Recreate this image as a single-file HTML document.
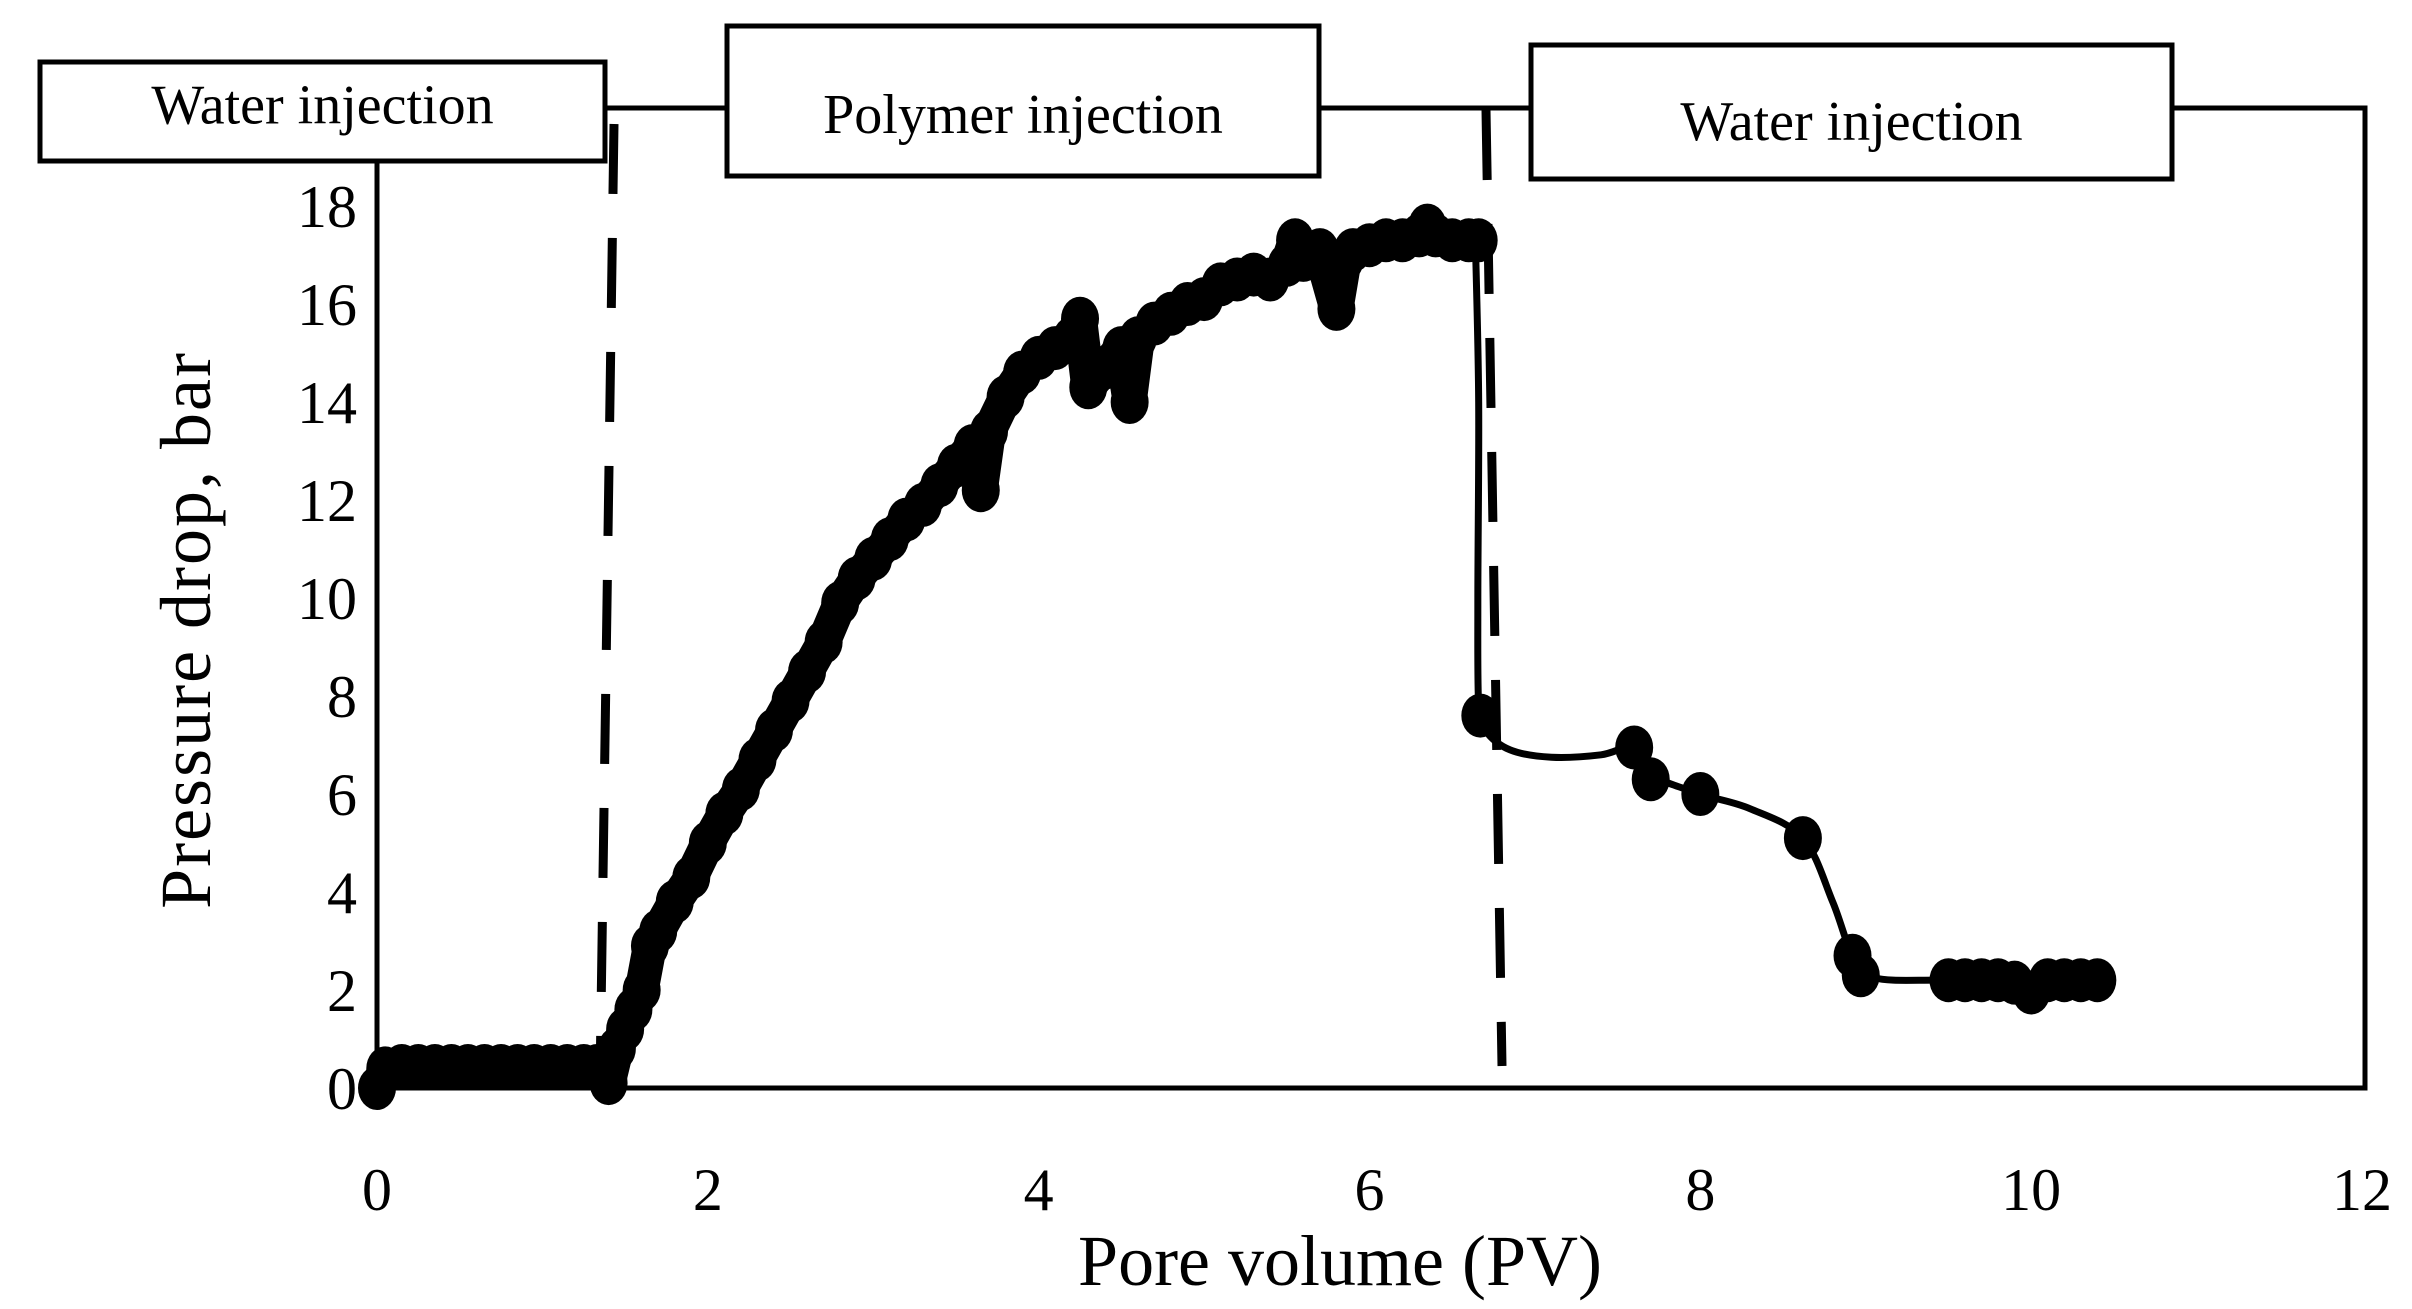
<!DOCTYPE html>
<html><head><meta charset="utf-8"><style>
html,body{margin:0;padding:0;background:#fff;}
svg{display:block;}
text{font-family:"Liberation Serif",serif;fill:#000;}
</style></head><body>
<svg id="chart" width="2412" height="1309" viewBox="0 0 2412 1309" xmlns="http://www.w3.org/2000/svg">
<g id="frame"></g>
<g id="marks"></g>
<g id="axes"></g>
<g id="boxes"></g>
</svg>
<script>
const xTicks=[0,2,4,6,8,10,12];
const yTicks=[0,2,4,6,8,10,12,14,16,18];
const ptX=[0,0.05,0.15,0.25,0.35,0.45,0.55,0.65,0.75,0.85,0.95,1.05,1.15,1.25,1.33,1.4,1.45,1.5,1.55,1.6,1.65,1.7,1.8,1.9,2.0,2.1,2.2,2.3,2.4,2.5,2.6,2.7,2.8,2.9,3.0,3.1,3.2,3.3,3.4,3.5,3.6,3.65,3.7,3.8,3.9,4.0,4.1,4.2,4.25,4.3,4.4,4.5,4.55,4.6,4.7,4.8,4.9,5.0,5.1,5.2,5.3,5.4,5.5,5.55,5.6,5.7,5.8,5.85,5.9,6.0,6.1,6.2,6.3,6.35,6.4,6.5,6.6,6.66,6.67,7.6,7.7,8.0,8.62,8.92,8.97,9.5,9.6,9.7,9.8,9.9,10.0,10.1,10.2,10.3,10.4];
const ptY=[0,0.4,0.45,0.45,0.45,0.45,0.45,0.45,0.45,0.45,0.45,0.45,0.45,0.45,0.45,0.1,0.8,1.2,1.6,2.0,2.9,3.2,3.8,4.3,5.0,5.6,6.1,6.7,7.3,7.9,8.5,9.1,9.9,10.4,10.8,11.2,11.6,11.9,12.3,12.7,13.1,12.2,13.4,14.1,14.6,14.9,15.1,15.3,15.7,14.3,14.7,15.1,14.0,15.3,15.6,15.8,16.0,16.1,16.4,16.5,16.6,16.5,16.8,17.3,16.9,17.1,15.9,16.9,17.1,17.2,17.3,17.3,17.4,17.6,17.4,17.3,17.3,17.3,7.6,6.95,6.3,6.0,5.1,2.7,2.3,2.2,2.2,2.2,2.2,2.15,1.95,2.2,2.2,2.2,2.2];
const curveX=[6.64,6.66,6.655,6.66,6.7,6.85,7.1,7.4,7.6,7.7,8.0,8.3,8.62,8.8,8.92,9.05,9.5,10.4];
const curveY=[17.3,14,10,7.8,7.3,6.9,6.75,6.8,6.95,6.4,6.0,5.7,5.1,3.8,2.7,2.25,2.2,2.2];
const X0=377,X1=2362,Y0=1088,Y1=206;
const sx=v=>X0+(X1-X0)*v/12;
const sy=v=>Y0-(Y0-Y1)*v/18;
const NS="http://www.w3.org/2000/svg";
function mk(tag,parent,attrs){const e=document.createElementNS(NS,tag);for(const k in attrs)e.setAttribute(k,attrs[k]);parent.appendChild(e);return e;}
const frame=document.getElementById('frame'),marks=document.getElementById('marks'),axes=document.getElementById('axes'),boxes=document.getElementById('boxes');
let f=mk('path',frame,{d:`M${X0},160 L${X0},${Y0} L2365,${Y0} L2365,108 L2172,108 M1319,108 L1531,108 M605,108 L727,108`,fill:'none',stroke:'#000','stroke-width':5});


let d1=mk('line',frame,{x1:614,y1:124,x2:600,y2:1082,stroke:'#000','stroke-width':9,'stroke-dasharray':'70,44'});


let d2=mk('line',frame,{x1:1486,y1:110,x2:1502,y2:1066,stroke:'#000','stroke-width':9,'stroke-dasharray':'70,44'});


let pts=[];for(let i=0;i<ptX.length;i++){if(ptX[i]<6.665)pts.push(sx(ptX[i])+','+sy(ptY[i]));}
let pl=mk('polyline',marks,{points:pts.join(' '),fill:'none',stroke:'#000','stroke-width':34,'stroke-linejoin':'round','stroke-linecap':'round'});


let cp=[];for(let i=0;i<curveX.length;i++)cp.push([sx(curveX[i]),sy(curveY[i])]);
let d='M'+cp[0][0]+','+cp[0][1];
for(let i=0;i<cp.length-1;i++){const p0=cp[Math.max(i-1,0)],p1=cp[i],p2=cp[i+1],p3=cp[Math.min(i+2,cp.length-1)];
d+=` C${p1[0]+(p2[0]-p0[0])/6},${p1[1]+(p2[1]-p0[1])/6} ${p2[0]-(p3[0]-p1[0])/6},${p2[1]-(p3[1]-p1[1])/6} ${p2[0]},${p2[1]}`;}
let cv=mk('path',marks,{d:d,fill:'none',stroke:'#000','stroke-width':7});


for(let i=0;i<ptX.length;i++){
 const c=mk('ellipse',marks,{cx:sx(ptX[i]),cy:sy(ptY[i]),rx:19,ry:22,fill:'#000'});
 
 
}
xTicks.forEach(v=>{const t=mk('text',axes,{x:sx(v),y:1210,'font-size':60,'text-anchor':'middle'});t.textContent=v;
 
 });
yTicks.forEach(v=>{const t=mk('text',axes,{x:357,y:sy(v)+21,'font-size':60,'text-anchor':'end'});t.textContent=v;
 
 });
let xt=mk('text',axes,{x:1340,y:1285,'font-size':72,'text-anchor':'middle'});xt.textContent='Pore volume (PV)';


let yt=mk('text',axes,{x:0,y:0,'font-size':72,'text-anchor':'middle','letter-spacing':2,transform:'translate(210,630) rotate(-90)'});yt.textContent='Pressure drop, bar';


const bx=[[40,62,565,99,'Water injection',12],[727,26,592,150,'Polymer injection',32],[1531,45,641,134,'Water injection',28]];
bx.forEach((b,i)=>{const r=mk('rect',boxes,{x:b[0],y:b[1],width:b[2],height:b[3],fill:'#fff',stroke:'#000','stroke-width':5});
 
 
 const t=mk('text',boxes,{x:b[0]+b[2]/2,y:b[1]+b[3]/2+b[5],'font-size':56,'text-anchor':'middle'});t.textContent=b[4];
 
 });
</script>
</body></html>
